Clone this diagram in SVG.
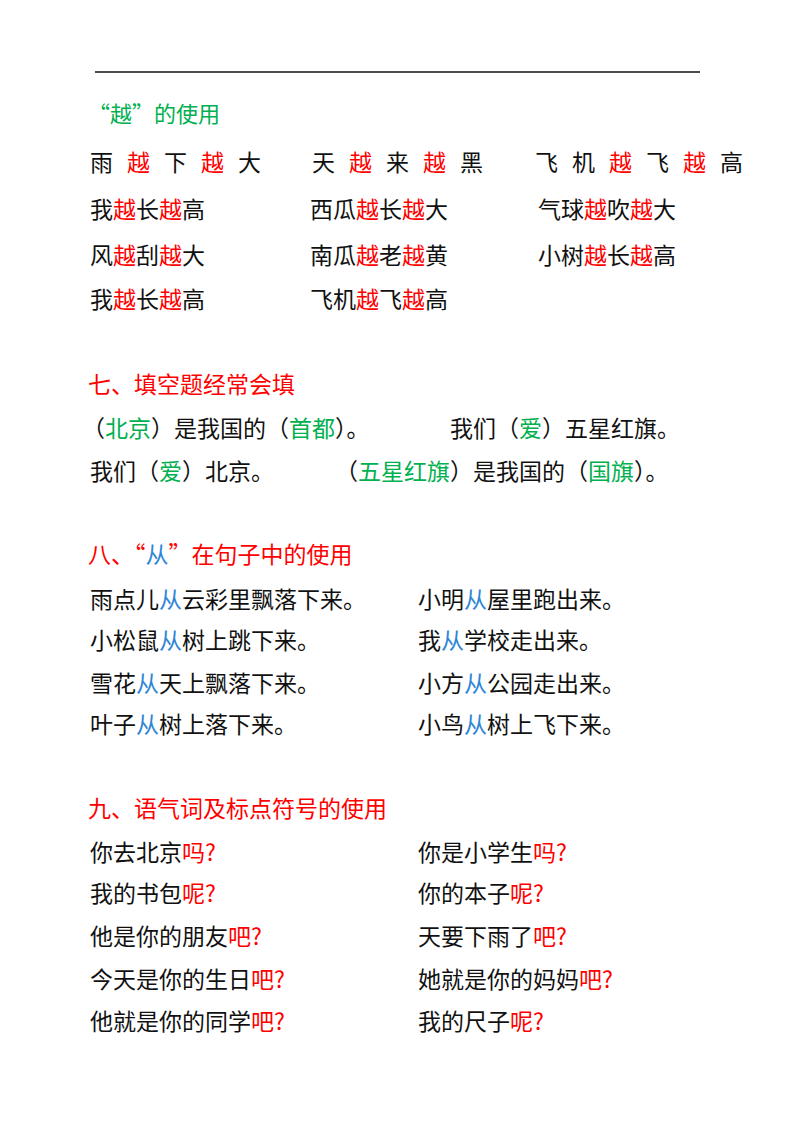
<svg xmlns="http://www.w3.org/2000/svg" width="800" height="1132" viewBox="0 0 800 1132">
<style>
text{font-family:"Noto Sans CJK SC","Liberation Sans",sans-serif;font-size:23px;fill:#111}
.r{fill:#ff0000}.g{fill:#00b050}.b{fill:#2e86d6}
</style>
<rect width="800" height="1132" fill="#fff"/>
<line x1="95" y1="72" x2="700" y2="72" stroke="#111" stroke-width="1.5"/>
<text x="88" y="122" class="g" style="font-size:22px">“越”的使用</text>
<text y="171"><tspan x="90">雨</tspan><tspan x="127" class="r">越</tspan><tspan x="164">下</tspan><tspan x="201" class="r">越</tspan><tspan x="238">大</tspan></text>
<text y="171"><tspan x="312">天</tspan><tspan x="349" class="r">越</tspan><tspan x="386">来</tspan><tspan x="423" class="r">越</tspan><tspan x="460">黑</tspan></text>
<text y="171"><tspan x="535">飞</tspan><tspan x="572">机</tspan><tspan x="609" class="r">越</tspan><tspan x="646">飞</tspan><tspan x="683" class="r">越</tspan><tspan x="720">高</tspan></text>
<text x="90" y="218">我<tspan class="r">越</tspan>长<tspan class="r">越</tspan>高</text>
<text x="310" y="218">西瓜<tspan class="r">越</tspan>长<tspan class="r">越</tspan>大</text>
<text x="538" y="218">气球<tspan class="r">越</tspan>吹<tspan class="r">越</tspan>大</text>
<text x="90" y="264">风<tspan class="r">越</tspan>刮<tspan class="r">越</tspan>大</text>
<text x="310" y="264">南瓜<tspan class="r">越</tspan>老<tspan class="r">越</tspan>黄</text>
<text x="538" y="264">小树<tspan class="r">越</tspan>长<tspan class="r">越</tspan>高</text>
<text x="90" y="308">我<tspan class="r">越</tspan>长<tspan class="r">越</tspan>高</text>
<text x="310" y="308">飞机<tspan class="r">越</tspan>飞<tspan class="r">越</tspan>高</text>
<text x="88" y="393" class="r">七、填空题经常会填</text>
<text x="82" y="437">（<tspan class="g">北京</tspan>）是我国的（<tspan class="g">首都</tspan>）。</text>
<text x="450" y="437">我们（<tspan class="g">爱</tspan>）五星红旗。</text>
<text x="90" y="480">我们（<tspan class="g">爱</tspan>）北京。</text>
<text x="335" y="480">（<tspan class="g">五星红旗</tspan>）是我国的（<tspan class="g">国旗</tspan>）。</text>
<text x="88" y="563" class="r">八、“<tspan class="b">从</tspan>”在句子中的使用</text>
<text x="90" y="608">雨点儿<tspan class="b">从</tspan>云彩里飘落下来。</text>
<text x="418" y="608">小明<tspan class="b">从</tspan>屋里跑出来。</text>
<text x="90" y="649">小松鼠<tspan class="b">从</tspan>树上跳下来。</text>
<text x="418" y="649">我<tspan class="b">从</tspan>学校走出来。</text>
<text x="90" y="692">雪花<tspan class="b">从</tspan>天上飘落下来。</text>
<text x="418" y="692">小方<tspan class="b">从</tspan>公园走出来。</text>
<text x="90" y="733">叶子<tspan class="b">从</tspan>树上落下来。</text>
<text x="418" y="733">小鸟<tspan class="b">从</tspan>树上飞下来。</text>
<text x="88" y="817" class="r">九、语气词及标点符号的使用</text>
<text x="90" y="861">你去北京<tspan class="r">吗?</tspan></text>
<text x="418" y="861">你是小学生<tspan class="r">吗?</tspan></text>
<text x="90" y="902">我的书包<tspan class="r">呢?</tspan></text>
<text x="418" y="902">你的本子<tspan class="r">呢?</tspan></text>
<text x="90" y="945">他是你的朋友<tspan class="r">吧?</tspan></text>
<text x="418" y="945">天要下雨了<tspan class="r">吧?</tspan></text>
<text x="90" y="988">今天是你的生日<tspan class="r">吧?</tspan></text>
<text x="418" y="988">她就是你的妈妈<tspan class="r">吧?</tspan></text>
<text x="90" y="1030">他就是你的同学<tspan class="r">吧?</tspan></text>
<text x="418" y="1030">我的尺子<tspan class="r">呢?</tspan></text>
</svg>
